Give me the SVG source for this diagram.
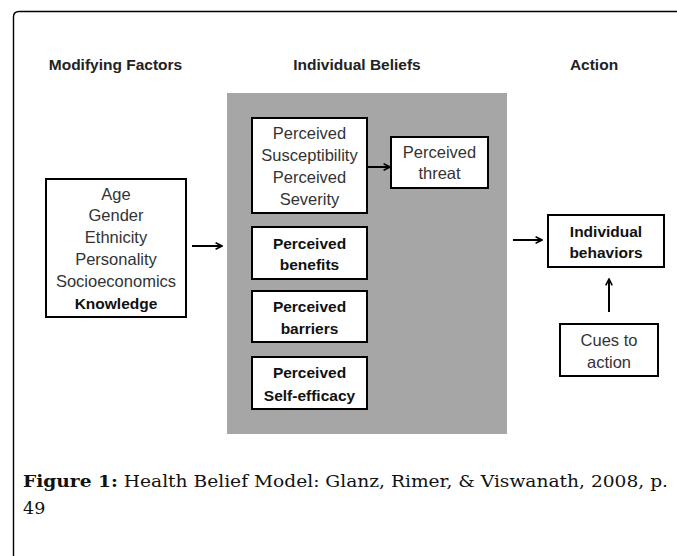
<svg xmlns="http://www.w3.org/2000/svg" width="677" height="556" viewBox="0 0 677 556">
<defs>
<style>
.t{font-family:"Liberation Sans",Arial,sans-serif;font-size:16.5px;fill:#333;text-anchor:middle}
.b{font-family:"Liberation Sans",Arial,sans-serif;font-size:15.5px;font-weight:bold;fill:#111;text-anchor:middle}
.h{font-family:"Liberation Sans",Arial,sans-serif;font-size:15.5px;font-weight:bold;fill:#222;text-anchor:middle}
.box{fill:#fff;stroke:#000;stroke-width:2}
.c{stroke:#000;stroke-width:2;fill:none}
.cap{font-family:"DejaVu Serif","Liberation Serif",serif;font-size:17.5px;fill:#111}
</style>
<marker id="ah" viewBox="0 0 10 10" refX="9" refY="5" markerWidth="4" markerHeight="4" markerUnits="strokeWidth" orient="auto">
<path d="M1,1 L9,5 L1,9" fill="none" stroke="#000" stroke-width="2"/>
</marker>
</defs>
<rect width="677" height="556" fill="#fff"/>
<path d="M13.5,560 V17 Q13.5,11.5 19,11.5 H680" fill="none" stroke="#000" stroke-width="1.4"/>

<g id="headers">
<text class="h" x="115.5" y="70">Modifying Factors</text>
<text class="h" x="357" y="70">Individual Beliefs</text>
<text class="h" x="594" y="70">Action</text>
</g>

<rect id="beliefs-panel" x="227" y="93" width="280" height="341" fill="#a6a6a6"/>

<g id="modifying">
<rect class="box" x="46" y="179" width="140" height="138"/>
<text class="t" x="116" y="199.5">Age</text>
<text class="t" x="116" y="221.3">Gender</text>
<text class="t" x="116" y="243.1">Ethnicity</text>
<text class="t" x="116" y="264.9">Personality</text>
<text class="t" x="116" y="286.7">Socioeconomics</text>
<text class="b" x="116" y="308.5">Knowledge</text>
</g>

<g id="susceptibility">
<rect class="box" x="252" y="118" width="115" height="95"/>
<text class="t" x="309.5" y="138.5">Perceived</text>
<text class="t" x="309.5" y="160.5">Susceptibility</text>
<text class="t" x="309.5" y="182.5">Perceived</text>
<text class="t" x="309.5" y="204.5">Severity</text>
</g>

<g id="threat">
<rect class="box" x="391" y="137" width="97" height="51"/>
<text class="t" x="439.5" y="157.5">Perceived</text>
<text class="t" x="439.5" y="178.5">threat</text>
</g>

<g id="benefits">
<rect class="box" x="252" y="227" width="115" height="52"/>
<text class="b" x="309.5" y="248.5">Perceived</text>
<text class="b" x="309.5" y="269.5">benefits</text>
</g>

<g id="barriers">
<rect class="box" x="252" y="291" width="115" height="51"/>
<text class="b" x="309.5" y="311.5">Perceived</text>
<text class="b" x="309.5" y="333.5">barriers</text>
</g>

<g id="selfefficacy">
<rect class="box" x="252" y="357" width="115" height="52"/>
<text class="b" x="309.5" y="377.5">Perceived</text>
<text class="b" x="309.5" y="400.5">Self-efficacy</text>
</g>

<g id="behaviors">
<rect class="box" x="548" y="215" width="116" height="52"/>
<text class="b" x="606" y="236.5">Individual</text>
<text class="b" x="606" y="257.5">behaviors</text>
</g>

<g id="cues">
<rect class="box" x="560" y="324" width="98" height="52"/>
<text class="t" x="609" y="345.5">Cues to</text>
<text class="t" x="609" y="367.5">action</text>
</g>

<g id="connectors">
<line class="c" x1="192" y1="246" x2="222" y2="246" marker-end="url(#ah)"/>
<line class="c" x1="368" y1="167" x2="390" y2="167" marker-end="url(#ah)"/>
<line class="c" x1="513" y1="240" x2="542" y2="240" marker-end="url(#ah)"/>
<line class="c" x1="609" y1="312" x2="609" y2="279" marker-end="url(#ah)"/>
</g>

<g id="caption">
<text class="cap" x="23" y="487" textLength="645" lengthAdjust="spacingAndGlyphs"><tspan font-weight="bold">Figure 1:</tspan> Health Belief Model: Glanz, Rimer, &amp; Viswanath, 2008, p.</text>
<text class="cap" x="23" y="514">49</text>
</g>
</svg>
